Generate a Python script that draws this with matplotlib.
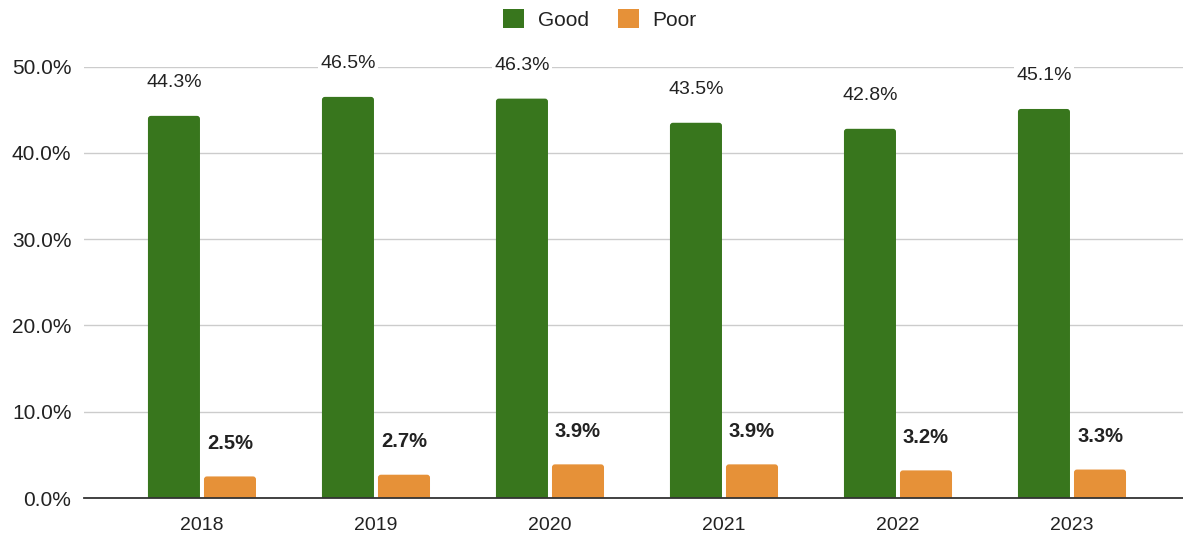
import matplotlib
matplotlib.use("Agg")
import matplotlib.pyplot as plt
import numpy as np
from matplotlib.ticker import FuncFormatter
from matplotlib.patches import FancyBboxPatch, Patch

plt.rcParams['font.family'] = ['Liberation Sans', 'DejaVu Sans']

years = ["2018", "2019", "2020", "2021", "2022", "2023"]
good = [44.3, 46.5, 46.3, 43.5, 42.8, 45.1]
poor = [2.5, 2.7, 3.9, 3.9, 3.2, 3.3]

GREEN = "#38761d"
ORANGE = "#e69138"
TEXT = "#222222"

W, H = 1183, 536
fig = plt.figure(figsize=(W / 100, H / 100), dpi=100)
ax = fig.add_axes([84 / W, (H - 498) / H, (W - 84) / W, (498 - 66.7) / H])

x = np.arange(len(years))
bw = 0.299
off = 0.161
b1 = ax.bar(x - off, good, bw, color=GREEN, label="Good", zorder=3)
b2 = ax.bar(x + off, poor, bw, color=ORANGE, label="Poor", zorder=3)

ax.set_xlim(-0.678, 5.638)
ax.set_ylim(0, 50)

# swap the square bar tops for slightly rounded ones
r = 0.017
aspect = 20.0
for container in (b1, b2):
    for rect in container:
        rect.set_visible(False)
        xb, h, w = rect.get_x(), rect.get_height(), rect.get_width()
        patch = FancyBboxPatch((xb, -1), w, h + 1,
                               boxstyle=f"round,pad=0,rounding_size={r}",
                               mutation_aspect=aspect, fc=rect.get_facecolor(),
                               ec="none", zorder=3, clip_on=True)
        ax.add_patch(patch)

ax.set_yticks(np.arange(0, 51, 10))
ax.yaxis.set_major_formatter(FuncFormatter(lambda v, _: f"{v:.1f}%"))
ax.set_xticks(x)
ax.set_xticklabels(years)

ax.grid(axis="y", color="#cccccc", linewidth=1.0, zorder=0)
ax.set_axisbelow(True)
for s in ["top", "right", "left"]:
    ax.spines[s].set_visible(False)
ax.spines["bottom"].set_color("#333333")
ax.spines["bottom"].set_linewidth(1.3)
ax.spines["bottom"].set_zorder(4)
ax.tick_params(axis="both", length=0, colors=TEXT)
ax.tick_params(axis="y", pad=9, labelsize=15)
ax.tick_params(axis="x", pad=13.5, labelsize=14)

for rect, v in zip(b1, good):
    ax.annotate(f"{v:.1f}%", (rect.get_x() + rect.get_width() / 2, v),
                xytext=(0, 33), textcoords="offset pixels", ha="center", va="center",
                fontsize=14, color=TEXT, zorder=5, annotation_clip=False,
                bbox=dict(boxstyle="square,pad=0.1", fc="white", ec="none"))
for rect, v in zip(b2, poor):
    ax.annotate(f"{v:.1f}%", (rect.get_x() + rect.get_width() / 2, v),
                xytext=(0, 33), textcoords="offset pixels", ha="center", va="center",
                fontsize=14.5, fontweight="bold", color=TEXT, zorder=5, annotation_clip=False,
                bbox=dict(boxstyle="square,pad=0.1", fc="white", ec="none"))

handles = [Patch(facecolor=GREEN, edgecolor="none"), Patch(facecolor=ORANGE, edgecolor="none")]
fig.legend(handles=handles, labels=["Good", "Poor"], loc="center",
           bbox_to_anchor=(600 / W, 1 - 19.5 / H), ncol=2, frameon=False,
           fontsize=15, handlelength=1.0, handleheight=1.0,
           handletextpad=0.65, columnspacing=1.4, labelcolor=TEXT)

fig.savefig("out.png", dpi=100)
